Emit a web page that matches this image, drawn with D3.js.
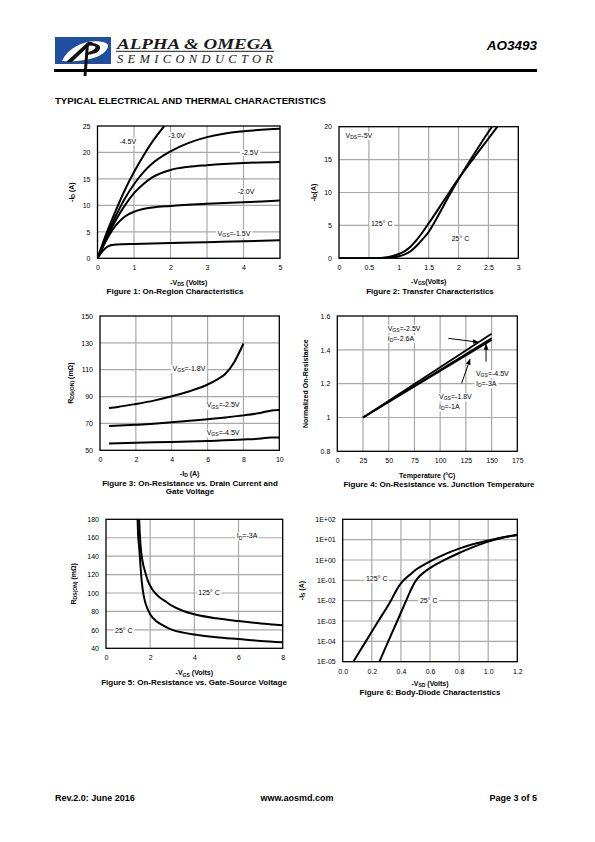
<!DOCTYPE html>
<html><head><meta charset="utf-8">
<script src="https://cdn.jsdelivr.net/npm/d3@7"></script>
<style>
html,body{margin:0;padding:0;background:#fff;}
svg{display:block;}
text{font-family:"Liberation Sans",Arial,sans-serif;fill:#000;}
</style></head><body>
<svg id="page" width="595" height="842"></svg>
<script>
// ---------------- DATA ----------------
// Figure 1: On-region characteristics  [-Vds, -Id]
const f1_vgs45 = [[0,0],[0.25,4.8],[0.5,9],[0.75,12.9],[1,16.3],[1.25,19.3],[1.5,22],[1.83,25]];
const f1_vgs30 = [[0,0],[0.25,4.2],[0.5,8],[0.75,11.3],[1,14],[1.25,16.2],[1.5,17.9],[2,20.2],[2.5,21.8],[3,22.9],[3.5,23.6],[4,24],[4.5,24.3],[5,24.5]];
const f1_vgs25 = [[0,0],[0.25,3.8],[0.5,7.2],[0.75,10],[1,12.3],[1.25,14],[1.5,15.3],[2,16.7],[2.5,17.3],[3,17.6],[4,18],[5,18.2]];
const f1_vgs20 = [[0,0],[0.25,3.5],[0.5,6.2],[0.75,7.9],[1,8.8],[1.25,9.3],[1.5,9.6],[2,9.9],[3,10.3],[4,10.6],[5,10.9]];
const f1_vgs15 = [[0,0],[0.1,1],[0.2,1.8],[0.3,2.3],[0.45,2.55],[0.7,2.65],[1,2.7],[2,2.9],[3,3.05],[4,3.2],[5,3.4]];
const f1_labels = [["-4.5V",0.6,22],["-3.0V",1.94,23.2],["-2.5V",3.95,19.95],["-2.0V",3.84,12.6],["V_{GS}=-1.5V",3.29,4.72]];
const f1_xTicks = [0,1,2,3,4,5], f1_yTicks = [0,5,10,15,20,25];

// Figure 2: Transfer characteristics  [-Vgs, -Id]
const f2_t25  = [[0,0],[0.7,0],[0.8,0.03],[0.9,0.12],[1.0,0.3],[1.1,0.6],[1.2,1.1],[1.3,1.9],[1.4,2.9],[1.5,4.0],[1.6,5.5],[1.75,8],[2,12],[2.25,15.7],[2.5,19.2],[2.56,20]];
const f2_t125 = [[0,0],[0.5,0],[0.6,0.02],[0.7,0.06],[0.8,0.15],[0.9,0.35],[1.0,0.65],[1.1,1.1],[1.2,1.8],[1.3,2.8],[1.4,4],[1.5,5.3],[1.75,8.7],[2,12.1],[2.25,15.2],[2.5,18.2],[2.65,20]];
const f2_labels = [["V_{DS}=-5V",0.11,18.7],["125° C",0.535,5.3],["25° C",1.885,3.04]];
const f2_xTicks = [0,0.5,1,1.5,2,2.5,3], f2_yTicks = [0,5,10,15,20];

// Figure 3: Rds(on) vs drain current  [-Id, mOhm]
const f3_vgs18 = [[0.5,81.5],[1,82.3],[2,84.5],[3,87],[4,90.2],[5,94],[6,99],[6.5,102.5],[7,107],[7.5,116],[8,129.5]];
const f3_vgs25 = [[0.5,68],[2,69],[3,69.8],[4,70.8],[5,72],[6,73.2],[7,74.5],[8,76],[9,78],[9.5,79.5],[10,80]];
const f3_vgs45 = [[0.5,55],[2,55.6],[4,56.2],[6,57],[8,58],[9,58.8],[9.5,59.5],[10,59.5]];
const f3_labels = [["V_{GS}=-1.8V",4.05,111],["V_{GS}=-2.5V",5.95,83.7],["V_{GS}=-4.5V",5.95,63.1]];
const f3_xTicks = [0,2,4,6,8,10], f3_yTicks = [50,70,90,110,130,150];

// Figure 4: Normalized Rds(on) vs junction temperature
const f4_vgs25 = [[25,1],[150,1.495]];
const f4_vgs45 = [[25,1],[150,1.468]];
const f4_vgs18 = [[25,1],[150,1.458]];
const f4_labels = [["V_{GS}=-2.5V",49,1.527],["I_{D}=-2.6A",49,1.468],["V_{GS}=-4.5V",134.8,1.26],["I_{D}=-3A",134.8,1.201],["V_{GS}=-1.8V",98.9,1.123],["I_{D}=-1A",98.9,1.064]];
const f4_arrows = [[108,1.468,137.1,1.445],[144.6,1.33,144.6,1.433],[120.9,1.202,129,1.344]];
const f4_xTicks = [0,25,50,75,100,125,150,175], f4_yTicks = [0.8,1,1.2,1.4,1.6];
const f4_yTickLabels = ["0.8","1","1.2","1.4","1.6"];

// Figure 5: Rds(on) vs gate-source voltage  [-Vgs, mOhm]
const f5_t25  = [[1.43,180],[1.45,165],[1.5,150],[1.56,130],[1.62,112],[1.7,98],[1.8,88],[2,77],[2.25,70],[2.5,66],[3,60],[3.5,57],[4,55],[5,52],[6,50],[7,48],[8,46.5]];
const f5_t125 = [[1.5,180],[1.53,165],[1.57,150],[1.65,135],[1.77,123],[1.9,113],[2.07,105],[2.3,98],[2.75,90],[3,86],[3.5,80.5],[4,77],[5,72.5],[6,69.5],[7,67],[8,65]];
const f5_labels = [["I_{D}=-3A",5.92,162],["125° C",4.18,100],["25° C",0.41,58.9]];
const f5_xTicks = [0,2,4,6,8], f5_yTicks = [40,60,80,100,120,140,160,180];

// Figure 6: Body-diode characteristics  [-Vsd, -Is]
const f6_t125 = [[0.073,1e-5],[0.159,1e-4],[0.245,1e-3],[0.331,1e-2],[0.37,0.033],[0.40,0.07],[0.43,0.12],[0.47,0.21],[0.5,0.32],[0.6,0.85],[0.7,1.9],[0.8,3.6],[0.9,6.1],[1.0,9],[1.1,13],[1.2,17]];
const f6_t25  = [[0.252,1e-5],[0.313,1e-4],[0.375,1e-3],[0.436,1e-2],[0.46,0.025],[0.48,0.05],[0.5,0.09],[0.52,0.14],[0.55,0.22],[0.6,0.4],[0.7,1.0],[0.8,2.2],[0.9,4.4],[1.0,8],[1.1,12.5],[1.2,17]];
const f6_labels = [["125° C",0.16,0.116],["25° C",0.531,0.0107]];
const f6_xTicks = [0,0.2,0.4,0.6,0.8,1.0,1.2];
const f6_xTickLabels = ["0.0","0.2","0.4","0.6","0.8","1.0","1.2"];
const f6_yTicks = [1e2,1e1,1e0,1e-1,1e-2,1e-3,1e-4,1e-5];
const f6_yTickLabels = ["1E+02","1E+01","1E+00","1E-01","1E-02","1E-03","1E-04","1E-05"];

// ---------------- DRAWING ----------------
const svg = d3.select("#page");
const defs = svg.append("defs");
defs.append("marker").attr("id","arr").attr("viewBox","0 0 10 10").attr("refX",9).attr("refY",5)
  .attr("markerWidth",6).attr("markerHeight",6).attr("markerUnits","userSpaceOnUse").attr("orient","auto")
  .append("path").attr("d","M0,1 L10,5 L0,9 Z").attr("fill","#000");

function rich(sel, str){
  const parts = str.split(/(_\{[^}]*\})/).filter(s=>s.length);
  let sub=false;
  parts.forEach(p=>{
    if(p.startsWith("_{")){
      sel.append("tspan").text(p.slice(2,-1)).attr("font-size","0.72em").attr("dy", sub?0:"0.25em").style("fill","#000");
      sub=true;
    } else {
      const t = sel.append("tspan").text(p).style("fill","#000");
      if(sub){ t.attr("dy","-0.18em"); }
      sub=false;
    }
  });
  return sel;
}

function boxLabel(g, px, py, str, size){
  const t = g.append("text").attr("x",px).attr("y",py).attr("dy","0.35em").attr("font-size",size||7);
  rich(t,str);
  const b = t.node().getBBox();
  g.insert("rect", function(){return t.node();}).attr("x",b.x-1.5).attr("y",b.y).attr("width",b.width+3).attr("height",b.height).attr("fill","#fff");
  return t;
}

let clipId=0;
function chart(c){
  const g = svg.append("g");
  const x = d3.scaleLinear().domain(c.xDomain).range([c.x0,c.x1]);
  const y = (c.log? d3.scaleLog(): d3.scaleLinear()).domain(c.yDomain).range([c.y1,c.y0]);
  // grid
  g.selectAll(null).data(c.xGrid).join("line")
    .attr("x1",d=>x(d)).attr("x2",d=>x(d)).attr("y1",c.y0).attr("y2",c.y1)
    .attr("stroke","#a8a8a8").attr("stroke-width",1.2);
  g.selectAll(null).data(c.yGrid).join("line")
    .attr("y1",d=>y(d)).attr("y2",d=>y(d)).attr("x1",c.x0).attr("x2",c.x1)
    .attr("stroke","#a8a8a8").attr("stroke-width",1.2);
  // curves
  const id = "clip"+(clipId++);
  defs.append("clipPath").attr("id",id).append("rect")
    .attr("x",c.x0).attr("y",c.y0).attr("width",c.x1-c.x0).attr("height",c.y1-c.y0);
  const line = d3.line().x(d=>x(d[0])).y(d=>y(d[1])).curve(c.curve||d3.curveMonotoneX);
  const cg = g.append("g").attr("clip-path","url(#"+id+")");
  c.series.forEach(s=>{
    cg.append("path").attr("d",line(s)).attr("fill","none").attr("stroke","#000")
      .attr("stroke-width",c.sw||2).attr("stroke-linejoin","round");
  });
  // labels
  (c.labels||[]).forEach(l=>boxLabel(g, x(l[1]), y(l[2]), l[0], 7));
  (c.arrows||[]).forEach(a=>{
    g.append("line").attr("x1",x(a[0])).attr("y1",y(a[1])).attr("x2",x(a[2])).attr("y2",y(a[3]))
      .attr("stroke","#000").attr("stroke-width",1).attr("marker-end","url(#arr)");
  });
  // border
  g.append("rect").attr("x",c.x0).attr("y",c.y0).attr("width",c.x1-c.x0).attr("height",c.y1-c.y0)
    .attr("fill","none").attr("stroke","#000").attr("stroke-width",1.3);
  // axes
  const ax = d3.axisBottom(x).tickValues(c.xTicks).tickSize(0).tickPadding(7);
  if(c.xLabels) ax.tickFormat((d,i)=>c.xLabels[i]); else ax.tickFormat(d3.format("~g"));
  const gx = g.append("g").attr("transform","translate(0,"+c.y1+")").call(ax);
  const ay = d3.axisLeft(y).tickValues(c.yTicks).tickSize(0).tickPadding(7);
  if(c.yLabels) ay.tickFormat((d,i)=>c.yLabels[i]); else ay.tickFormat(d3.format("~g"));
  const gy = g.append("g").attr("transform","translate("+c.x0+",0)").call(ay);
  [gx,gy].forEach(a=>{a.select(".domain").remove(); a.selectAll("text").attr("font-size",7).style("font-family","Liberation Sans, Arial, sans-serif").style("fill","#000");});
  // axis titles
  const xt = g.append("text").attr("x",(c.x0+c.x1)/2).attr("y",c.y1+c.xtOff).attr("text-anchor","middle")
    .attr("font-size",7).attr("font-weight","bold");
  rich(xt,c.xTitle);
  const yt = g.append("text").attr("transform","translate("+c.ytX+","+((c.y0+c.y1)/2)+") rotate(-90)")
    .attr("text-anchor","middle").attr("font-size",7).attr("font-weight","bold");
  rich(yt,c.yTitle);
  // caption
  c.caption.forEach((cap,i)=>{
    g.append("text").attr("x",c.capX).attr("y",c.capY+i*8.5).attr("text-anchor","middle")
      .attr("font-size",8).attr("font-weight","bold").text(cap);
  });
}

chart({x0:97.5,x1:280,y0:126,y1:258.3,xDomain:[0,5],yDomain:[0,25],
  xGrid:[1,2,3,4],yGrid:[5,10,15,20],xTicks:f1_xTicks,yTicks:f1_yTicks,
  series:[f1_vgs45,f1_vgs30,f1_vgs25,f1_vgs20,f1_vgs15],labels:f1_labels,
  xTitle:"-V_{DS} (Volts)",xtOff:26.5,yTitle:"-I_{D} (A)",ytX:74,
  caption:["Figure 1: On-Region Characteristics"],capX:175,capY:294});

chart({x0:339,x1:518.3,y0:126.7,y1:258.3,xDomain:[0,3],yDomain:[0,20],
  xGrid:[0.5,1,1.5,2,2.5],yGrid:[5,10,15],xTicks:f2_xTicks,yTicks:f2_yTicks,
  series:[f2_t25,f2_t125],labels:f2_labels,
  xTitle:"-V_{GS}(Volts)",xtOff:25.5,yTitle:"-I_{D}(A)",ytX:316,
  caption:["Figure 2: Transfer Characteristics"],capX:430,capY:294});

chart({x0:100,x1:279.3,y0:316,y1:450.3,xDomain:[0,10],yDomain:[50,150],
  xGrid:[2,4,6,8],yGrid:[70,90,110,130],xTicks:f3_xTicks,yTicks:f3_yTicks,
  series:[f3_vgs18,f3_vgs25,f3_vgs45],labels:f3_labels,
  xTitle:"-I_{D} (A)",xtOff:25.5,yTitle:"R_{DS(ON)} (mΩ)",ytX:72.5,
  caption:["Figure 3: On-Resistance vs. Drain Current and","Gate Voltage"],capX:190,capY:485.5});

chart({x0:337.3,x1:517.3,y0:316,y1:451.3,xDomain:[0,175],yDomain:[0.8,1.6],
  xGrid:[25,50,75,100,125,150],yGrid:[1,1.2,1.4],xTicks:f4_xTicks,yTicks:f4_yTicks,yLabels:f4_yTickLabels,
  series:[f4_vgs25,f4_vgs45,f4_vgs18],labels:f4_labels,arrows:f4_arrows,curve:d3.curveLinear,sw:1.8,
  xTitle:"Temperature (°C)",xtOff:26.5,yTitle:"Normalized On-Resistance",ytX:307.5,
  caption:["Figure 4: On-Resistance vs. Junction Temperature"],capX:439,capY:487});

chart({x0:106,x1:282.7,y0:519.3,y1:648.3,xDomain:[0,8],yDomain:[40,180],
  xGrid:[2,4,6],yGrid:[60,80,100,120,140,160],xTicks:f5_xTicks,yTicks:f5_yTicks,
  series:[f5_t25,f5_t125],labels:f5_labels,
  xTitle:"-V_{GS} (Volts)",xtOff:27,yTitle:"R_{DS(ON)} (mΩ)",ytX:76,
  caption:["Figure 5: On-Resistance vs. Gate-Source Voltage"],capX:194,capY:685});

chart({x0:342.7,x1:517.3,y0:519.3,y1:661.7,xDomain:[0,1.2],yDomain:[1e-5,1e2],log:true,
  xGrid:[0.2,0.4,0.6,0.8,1.0],yGrid:[1e-4,1e-3,1e-2,1e-1,1,10],xTicks:f6_xTicks,xLabels:f6_xTickLabels,
  yTicks:f6_yTicks,yLabels:f6_yTickLabels,
  series:[f6_t125,f6_t25],labels:f6_labels,
  xTitle:"-V_{SD} (Volts)",xtOff:24,yTitle:"-I_{S} (A)",ytX:304,
  caption:["Figure 6: Body-Diode Characteristics"],capX:430,capY:694.5});

// ---------------- HEADER / FOOTER ----------------
const hd = svg.append("g");
hd.append("rect").attr("x",55).attr("y",37).attr("width",56).attr("height",27).attr("fill","#1f4f9e");
hd.append("path").attr("d","M62,61 C70,44 92,38 106,43 C112,46 104,56 90,59 C80,61 70,62 62,61 Z").attr("fill","#fff");
hd.append("path").attr("d","M66,62 L88,42 L93,42 L72,62 Z").attr("fill","#111");
hd.append("path").attr("d","M86,43 L89,43 L86.5,76 L83.5,76 Z").attr("fill","#111");
hd.append("path").attr("d","M88,43 C100,42 104,48 96,53 L88,55 L88.3,52 C98,49 98,45 88,45.5 Z").attr("fill","#111");
hd.append("text").attr("x",117).attr("y",48.5)
  .style("font-family","'Liberation Serif','DejaVu Serif',serif").style("font-style","italic").style("font-weight","bold")
  .style("font-size","15.5px").style("fill","#1a1a1a")
  .attr("textLength",156).attr("lengthAdjust","spacingAndGlyphs").text("ALPHA & OMEGA");
hd.append("line").attr("x1",116).attr("x2",274).attr("y1",51.3).attr("y2",51.3).attr("stroke","#1a1a1a").attr("stroke-width",1);
hd.append("text").attr("x",117).attr("y",62.5)
  .style("font-family","'Liberation Serif','DejaVu Serif',serif").style("font-style","italic")
  .style("font-size","12.5px").style("fill","#1a1a1a")
  .attr("textLength",156).attr("lengthAdjust","spacing").text("SEMICONDUCTOR");
hd.append("text").attr("x",537).attr("y",50).attr("text-anchor","end").attr("font-style","italic").attr("font-weight","bold")
  .attr("font-size",13.5).text("AO3493");
hd.append("rect").attr("x",54).attr("y",69).attr("width",483).attr("height",3).attr("fill","#000");
hd.append("text").attr("x",55).attr("y",103.5).attr("font-weight","bold").attr("font-size",9.6).text("TYPICAL ELECTRICAL AND THERMAL CHARACTERISTICS");

const ft = svg.append("g");
ft.append("text").attr("x",55).attr("y",800.5).attr("font-weight","bold").attr("font-size",9).text("Rev.2.0: June 2016");
ft.append("text").attr("x",297).attr("y",800.5).attr("text-anchor","middle").attr("font-weight","bold").attr("font-size",9).text("www.aosmd.com");
ft.append("text").attr("x",537).attr("y",800.5).attr("text-anchor","end").attr("font-weight","bold").attr("font-size",9).text("Page 3 of 5");
</script>
</body></html>
